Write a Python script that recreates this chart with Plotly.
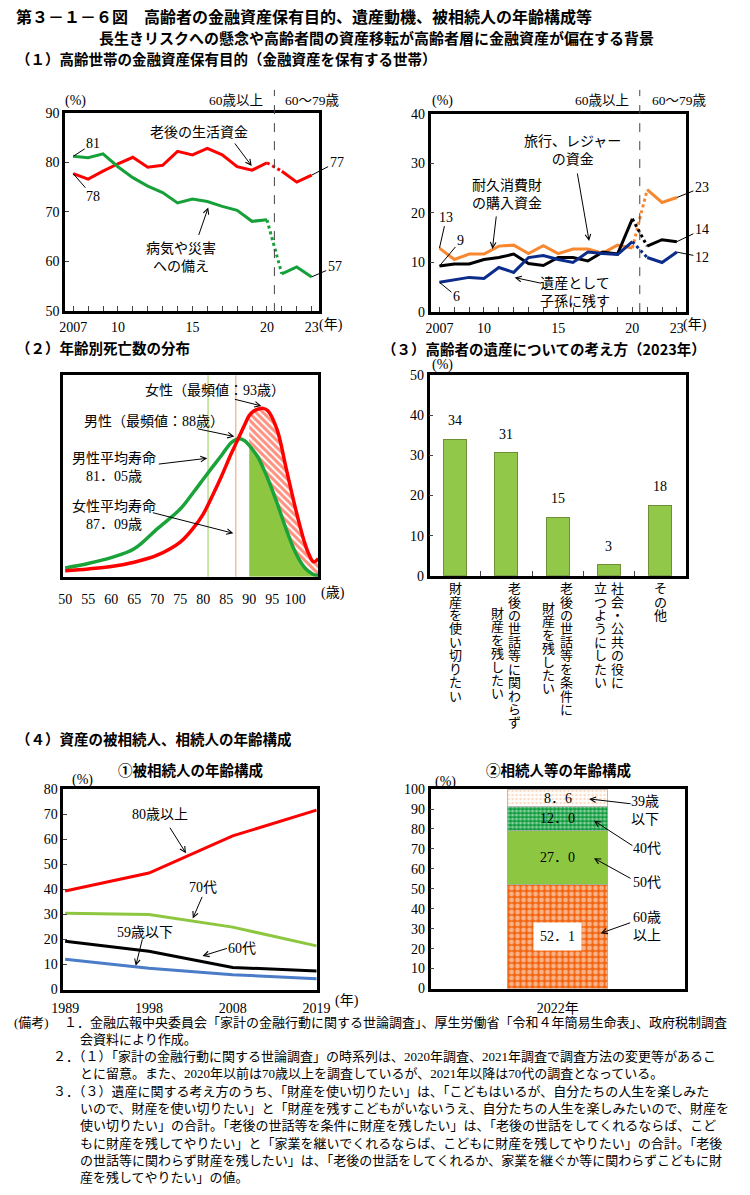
import plotly.graph_objects as go

W, H = 750, 1195
def X(p): return p / W
def Y(p): return 1 - p / H

SERIF = "Liberation Serif, Noto Sans CJK JP, serif"
GOTH = "Noto Sans CJK JP, sans-serif"

# ---------------- data ----------------
# (1) purposes of holding financial assets (%)
years = list(range(2007, 2024))
life_funds = [77.7, 76.6, 78.2, 79.7, 81.0, 79.0, 79.4, 82.2, 81.5, 82.8, 81.5, 79.1, 78.4, 79.9, 78.2, 76.0, 77.4]
illness_disaster = [81.2, 80.9, 81.7, 79.1, 76.9, 75.2, 73.9, 71.8, 72.6, 72.1, 71.1, 70.3, 68.1, 68.4, 57.5, 58.9, 56.9]
travel_leisure = [12.9, 10.6, 11.7, 11.7, 13.3, 13.5, 11.8, 13.4, 11.8, 12.7, 12.7, 11.9, 13.5, 12.9, 24.7, 22.1, 23.1]
durable_goods = [9.3, 9.7, 9.7, 10.6, 11.0, 11.7, 9.8, 9.4, 11.0, 11.0, 10.3, 12.1, 11.7, 18.8, 13.3, 14.6, 14.2]
bequest = [6.0, 6.5, 7.0, 6.8, 9.0, 8.0, 11.0, 11.4, 10.6, 10.0, 12.1, 11.8, 11.6, 14.2, 11.0, 10.0, 12.1]
year_tick_text = {2007: "2007", 2010: "10", 2015: "15", 2020: "20", 2023: "23"}

# (2) distribution of deaths by age (relative scale)
ages = [50, 55, 60, 65, 70, 75, 78, 80, 82, 84, 86, 87, 88, 89, 90, 91, 92, 93, 94, 96, 98, 100, 102, 103, 104, 105]
male_deaths = [4.4, 6.6, 9.5, 13.9, 23.8, 33.6, 42.3, 48.4, 54.4, 60.3, 66.4, 68.0, 68.5, 67.5, 65.2, 62.3, 59.0, 54.1, 48.9, 36.9, 23.8, 12.3, 4.6, 2.5, 1.1, 0.7]
female_deaths = [3.0, 3.9, 5.1, 7.2, 10.7, 17.2, 24.6, 31.1, 40.2, 50.0, 60.7, 65.6, 70.5, 75.4, 80.0, 82.3, 83.3, 83.6, 82.5, 73.4, 54.1, 34.4, 17.2, 11.0, 7.4, 9.0]
male_life_exp = 81.05
female_life_exp = 87.09
age_ticks = list(range(50, 101, 5))

# (3) views on bequests (2023, %)
bequest_cats = ["財産を使い切りたい", "老後の世話等に関わらず財産を残したい", "老後の世話等を条件に財産を残したい",
                "社会・公共の役に立つようにしたい", "その他"]
bequest_vals = [34.0, 30.7, 14.6, 2.7, 17.6]
bequest_label_cols = [["財産を使い切りたい"], ["老後の世話等に関わらず", "財産を残したい"],
                      ["老後の世話等を条件に", "財産を残したい"], ["社会・公共の役に", "立つようにしたい"], ["その他"]]

# (4)-1 age of decedents (%)
years4 = ["1989", "1998", "2008", "2019"]
dec_80plus = [39.3, 46.5, 61.3, 71.6]
dec_70s = [30.4, 29.9, 24.9, 17.4]
dec_60s = [19.3, 15.3, 8.8, 7.4]
dec_59under = [12.1, 8.5, 5.9, 4.3]

# (4)-2 age of heirs (2022, %)
heir_year = ["2022年"]
heir_groups = ["60歳以上", "50代", "40代", "39歳以下"]
heir_vals = [52.1, 27.0, 12.0, 8.6]

# ---------------- figure ----------------
fig = go.Figure()
ann = []
shapes = []

def text(x, y, s, size=14, anchor="center", family=SERIF, **kw):
    ann.append(dict(xref="paper", yref="paper", x=X(x), y=Y(y), text=s, showarrow=False,
                    xanchor=anchor, yanchor="middle", font=dict(family=family, size=size, color="black"), **kw))

def arrow(sx, sy, tx, ty):
    ann.append(dict(xref="paper", yref="paper", x=X(tx), y=Y(ty), ax=sx - tx, ay=sy - ty, text="",
                    showarrow=True, arrowhead=5, arrowsize=1.1, arrowwidth=1, arrowcolor="black"))

def lead(xa, ya, x, y, dx, dy):
    ann.append(dict(xref=xa, yref=ya, x=x, y=y, ax=dx, ay=dy, text=f"{round(y)}", showarrow=True,
                    arrowhead=0, arrowwidth=1, arrowcolor="black", standoff=0,
                    font=dict(family=SERIF, size=14, color="black")))

def frame(**kw):
    d = dict(showline=True, linewidth=2.5, linecolor="black", mirror=True, showgrid=False,
             zeroline=False, tickfont=dict(family=SERIF, size=14, color="black"), fixedrange=True)
    d.update(kw)
    return d

# ---- panel (1) ----
k20 = years.index(2020)
def add_series(ys, color, xa, ya):
    for sl, dash in ((slice(0, k20 + 1), "solid"), (slice(k20, k20 + 2), "dot"), (slice(k20 + 1, None), "solid")):
        fig.add_trace(go.Scatter(x=years[sl], y=ys[sl], mode="lines", line=dict(color=color, width=3, dash=dash),
                                 xaxis=xa, yaxis=ya, showlegend=False, hoverinfo="skip"))

add_series(life_funds, "#ff0000", "x", "y")
add_series(illness_disaster, "#16a03a", "x", "y")
add_series(travel_leisure, "#f7882f", "x2", "y2")
add_series(durable_goods, "#000000", "x2", "y2")
add_series(bequest, "#0c2c8c", "x2", "y2")

for xa in ("x", "x2"):
    shapes.append(dict(type="line", xref=xa, yref="paper", x0=2020.5, x1=2020.5, y0=Y(309), y1=Y(84),
                       line=dict(color="#444", width=1, dash="dash")))

lead("x", "y", 2007, illness_disaster[0], 20, -13)
lead("x", "y", 2007, life_funds[0], 20, 23)
lead("x", "y", 2023, life_funds[-1], 25, -13)
lead("x", "y", 2023, illness_disaster[-1], 23, -10)
lead("x2", "y2", 2007, travel_leisure[0], 7, -31)
lead("x2", "y2", 2007, durable_goods[0], 21, -25)
lead("x2", "y2", 2007, bequest[0], 17, 14)
lead("x2", "y2", 2023, travel_leisure[-1], 25, -10)
lead("x2", "y2", 2023, durable_goods[-1], 25, -12)
lead("x2", "y2", 2023, bequest[-1], 25, 5)

text(193, 127, "老後の生活資金")
arrow(230, 137, 248, 161)
text(175, 254, "病気や災害<br>への備え")
arrow(193, 232, 203, 203)
text(262, 95, "60歳以上", 13.5, "right")
text(280, 95, "60～79歳", 13.5, "left")
text(66, 95, "(%)")
text(315, 322, "(年)", 14, "left")

text(580, 145, "旅行、レジャー<br>の資金")
arrow(585, 168, 597, 237)
text(512, 190, "耐久消費財<br>の購入資金")
arrow(501, 211, 497, 245)
text(582, 289, "遺産として<br>子孫に残す")
arrow(548, 280, 520, 274)
text(640, 95, "60歳以上", 13.5, "right")
text(660, 95, "60～79歳", 13.5, "left")
text(445, 95, "(%)")
text(692, 322, "(年)", 14, "left")

# ---- panel (2) ----
k90 = ages.index(90)
fig.add_trace(go.Scatter(x=ages[k90:], y=male_deaths[k90:], mode="lines", line=dict(width=0, shape="spline"),
                         fill="tozeroy", fillcolor="#8dc641", xaxis="x3", yaxis="y3", showlegend=False, hoverinfo="skip"))
fig.add_trace(go.Scatter(x=ages[k90:], y=male_deaths[k90:], mode="lines", line=dict(width=0, shape="spline"),
                         xaxis="x3", yaxis="y3", showlegend=False, hoverinfo="skip"))
fig.add_trace(go.Scatter(x=ages[k90:], y=female_deaths[k90:], mode="lines", line=dict(width=0, shape="spline"),
                         fill="tonexty", fillcolor="white",
                         fillpattern=dict(shape="\\", fgcolor="#ff2200", bgcolor="white", size=5, solidity=0.6),
                         xaxis="x3", yaxis="y3", showlegend=False, hoverinfo="skip"))
fig.add_trace(go.Scatter(x=ages, y=male_deaths, mode="lines", line=dict(color="#1aa33a", width=3.5, shape="spline"),
                         xaxis="x3", yaxis="y3", showlegend=False, hoverinfo="skip"))
fig.add_trace(go.Scatter(x=ages, y=female_deaths, mode="lines", line=dict(color="#ff0000", width=3.5, shape="spline"),
                         xaxis="x3", yaxis="y3", showlegend=False, hoverinfo="skip"))
shapes.append(dict(type="line", xref="x3", yref="y3 domain", x0=male_life_exp, x1=male_life_exp, y0=0, y1=1,
                   line=dict(color="#92d050", width=1), layer="below"))
shapes.append(dict(type="line", xref="x3", yref="y3 domain", x0=female_life_exp, x1=female_life_exp, y0=0, y1=1,
                   line=dict(color="#f09a6a", width=1), layer="below"))
text(210, 388, "女性（最頻値：93歳）")
arrow(230, 397, 258, 404)
text(147, 420, "男性（最頻値：88歳）")
arrow(192, 427, 230, 435)
text(105, 466, "男性平均寿命<br>81．05歳")
arrow(152, 463, 202, 457)
text(105, 515, "女性平均寿命<br>87．09歳")
arrow(147, 512, 229, 533)
text(332, 593, "(歳)")

# ---- panel (3) ----
fig.add_trace(go.Bar(x=bequest_cats, y=bequest_vals, width=0.45,
                     marker=dict(color="#92c84a", line=dict(color="#6e8f36", width=1)),
                     xaxis="x4", yaxis="y4", showlegend=False, hoverinfo="skip"))
for c, v in zip(bequest_cats, bequest_vals):
    ann.append(dict(xref="x4", yref="y4", x=c, y=v, yshift=9, yanchor="bottom", text=f"{v:.0f}", showarrow=False,
                    font=dict(family=SERIF, size=14, color="black")))
# vertical (tategaki) category labels: (x shift px, first-char centre y px) per column
col_layout = {0: [(0, 589)], 1: [(8, 589), (-9, 614)], 2: [(9, 589), (-9, 609)], 3: [(9, 589), (-8, 589)], 4: [(0, 589)]}
for i, cols in enumerate(bequest_label_cols):
    for (dx, top), s in zip(col_layout[i], cols):
        for j, ch in enumerate(s):
            ann.append(dict(xref="x4", yref="paper", x=bequest_cats[i], y=Y(top + j * 13.6), xshift=dx, text=ch,
                            showarrow=False, xanchor="center", yanchor="middle",
                            font=dict(family=SERIF, size=13, color="black")))
text(445, 363, "(%)")

# ---- panel (4)-1 ----
for ys, color in ((dec_80plus, "#ff0000"), (dec_70s, "#8dc63f"), (dec_60s, "#000000"), (dec_59under, "#4a7cc7")):
    fig.add_trace(go.Scatter(x=years4, y=ys, mode="lines", line=dict(color=color, width=3),
                             xaxis="x5", yaxis="y5", showlegend=False, hoverinfo="skip"))
lead("x5", "y5", years4[0], dec_80plus[0], 28, -26)
lead("x5", "y5", years4[0], dec_70s[0], 28, -12)
lead("x5", "y5", years4[0], dec_60s[0], 27, -10)
lead("x5", "y5", years4[0], dec_59under[0], 22, 19)
lead("x5", "y5", years4[-1], dec_80plus[-1], 22, -4)
lead("x5", "y5", years4[-1], dec_70s[-1], 22, -10)
lead("x5", "y5", years4[-1], dec_60s[-1], 22, -9)
lead("x5", "y5", years4[-1], dec_59under[-1], 22, -1)
text(153, 818, "80歳以上")
arrow(163, 830, 180, 857)
text(198, 892, "70代")
arrow(197, 900, 187, 923)
text(138, 937, "59歳以下")
arrow(135, 943, 128, 971)
text(238, 953, "60代")
arrow(223, 953, 197, 961)
text(73, 783, "(%)")
text(347, 1007, "(年)")
text(185, 772, "<b>①被相続人の年齢構成</b>", 14.5, family=GOTH)

# ---- panel (4)-2 ----
heir_styles = [
    dict(color="white", pattern=dict(shape=".", fgcolor="white", bgcolor="#f26510", size=6, solidity=0.5)),
    dict(color="#8dc641"),
    dict(color="white", pattern=dict(shape=".", fgcolor="white", bgcolor="#0c9a3a", size=4, solidity=0.5)),
    dict(color="white", pattern=dict(shape=".", fgcolor="#f7b98a", bgcolor="white", size=4, solidity=0.35)),
]
cum = 0
for g, v, st in zip(heir_groups, heir_vals, heir_styles):
    m = dict(st)
    m["line"] = dict(color="#aaaaaa", width=0.8)
    fig.add_trace(go.Bar(x=heir_year, y=[v], width=0.395, marker=m, name=g,
                         xaxis="x6", yaxis="y6", showlegend=False, hoverinfo="skip"))
    label = f"{v:.1f}".replace(".", "．")
    extra = dict(bgcolor="white", borderpad=6) if g == "60歳以上" else {}
    ann.append(dict(xref="x6", yref="y6", x=heir_year[0], y=cum + v / 2, text=label, showarrow=False,
                    font=dict(family=SERIF, size=14, color="black"), **extra))
    cum += v
text(655, 814, "39歳<br>以下")
arrow(640, 807, 597, 802)
text(657, 852, "40代")
arrow(642, 850, 602, 824)
text(657, 887, "50代")
arrow(640, 883, 602, 862)
text(657, 931, "60歳<br>以上")
arrow(640, 927, 609, 938)
text(448, 785, "(%)")
text(565, 772, "<b>②相続人等の年齢構成</b>", 14.5, family=GOTH)

# ---- titles & headers ----
text(2, 9, "<b>第３－１－６図　高齢者の金融資産保有目的、遺産動機、被相続人の年齢構成等</b>", 16, "left", GOTH)
text(377, 31, "<b>長生きリスクへの懸念や高齢者間の資産移転が高齢者層に金融資産が偏在する背景</b>", 15, "center", GOTH)
text(2, 52, "<b>（１）高齢世帯の金融資産保有目的（金融資産を保有する世帯）</b>", 14.5, "left", GOTH)
text(2, 345, "<b>（２）年齢別死亡数の分布</b>", 14.5, "left", GOTH)
text(381, 346, "<b>（３）高齢者の遺産についての考え方（2023年）</b>", 14.5, "left", GOTH)
text(2, 741, "<b>（４）資産の被相続人、相続人の年齢構成</b>", 14.5, "left", GOTH)

# ---- notes ----
note_lines = [
    (52, "１．金融広報中央委員会「家計の金融行動に関する世論調査」、厚生労働省「令和４年簡易生命表」、政府税制調査"),
    (68, "会資料により作成。"),
    (40, "２．（１）「家計の金融行動に関する世論調査」の時系列は、2020年調査、2021年調査で調査方法の変更等があるこ"),
    (68, "とに留意。また、2020年以前は70歳以上を調査しているが、2021年以降は70代の調査となっている。"),
    (40, "３．（３）遺産に関する考え方のうち、「財産を使い切りたい」は、「こどもはいるが、自分たちの人生を楽しみた"),
    (68, "いので、財産を使い切りたい」と「財産を残すこどもがいないうえ、自分たちの人生を楽しみたいので、財産を"),
    (68, "使い切りたい」の合計。「老後の世話等を条件に財産を残したい」は、「老後の世話をしてくれるならば、こど"),
    (68, "もに財産を残してやりたい」と「家業を継いでくれるならば、こどもに財産を残してやりたい」の合計。「老後"),
    (68, "の世話等に関わらず財産を残したい」は、「老後の世話をしてくれるか、家業を継ぐか等に関わらずこどもに財"),
    (68, "産を残してやりたい」の値。"),
]
text(0, 1028, "(備考)", 13, "left")
for i, (x0, s) in enumerate(note_lines):
    text(x0, 1028 + i * 17.5, s, 13, "left")

# ---------------- layout ----------------
fig.update_layout(
    width=W, height=H, margin=dict(l=0, r=0, t=0, b=0),
    paper_bgcolor="white", plot_bgcolor="white", showlegend=False, barmode="stack",
    xaxis=frame(domain=[X(55), X(318)], anchor="y", range=[2006.46, 2023.52], tickvals=years,
                ticktext=[year_tick_text.get(y, "") for y in years], ticks="inside", ticklen=5, ticklabelstandoff=1),
    yaxis=frame(domain=[Y(308), Y(107)], anchor="x", range=[50, 90], dtick=10, ticks="inside", ticklen=4),
    xaxis2=frame(domain=[X(433), X(697)], anchor="y2", range=[2006.4, 2023.6], tickvals=years,
                 ticktext=[year_tick_text.get(y, "") for y in years], ticks="inside", ticklen=5, ticklabelstandoff=1),
    yaxis2=frame(domain=[Y(309), Y(108)], anchor="x2", range=[0, 40], dtick=10, ticks="inside", ticklen=4),
    xaxis3=frame(domain=[X(53), X(317)], anchor="y3", range=[49.58, 105.04], tickvals=age_ticks, ticks="",
                 ticklabelstandoff=8),
    yaxis3=frame(domain=[Y(577), Y(373)], anchor="x3", range=[0, 100], showticklabels=False, ticks=""),
    xaxis4=frame(domain=[X(432), X(697)], anchor="y4", type="category", range=[-0.5, 4.5], showticklabels=False,
                 ticks="inside", tickson="boundaries", ticklen=5),
    yaxis4=frame(domain=[Y(576), Y(373)], anchor="x4", range=[0, 50], dtick=10, ticks="inside", ticklen=4),
    xaxis5=frame(domain=[X(53), X(316)], anchor="y5", type="category", range=[-0.023, 3.012], ticks="",
                 ticklabelstandoff=4),
    yaxis5=frame(domain=[Y(995), Y(792)], anchor="x5", range=[0, 80], dtick=10, ticks="inside", ticklen=4),
    xaxis6=frame(domain=[X(433), X(696)], anchor="y6", type="category", range=[-0.5, 0.5], ticks="",
                 ticklabelstandoff=5),
    yaxis6=frame(domain=[Y(994), Y(792)], anchor="x6", range=[0, 100], dtick=10, ticks="inside", ticklen=4),
    annotations=ann, shapes=shapes,
)

fig.write_html("out.html")
